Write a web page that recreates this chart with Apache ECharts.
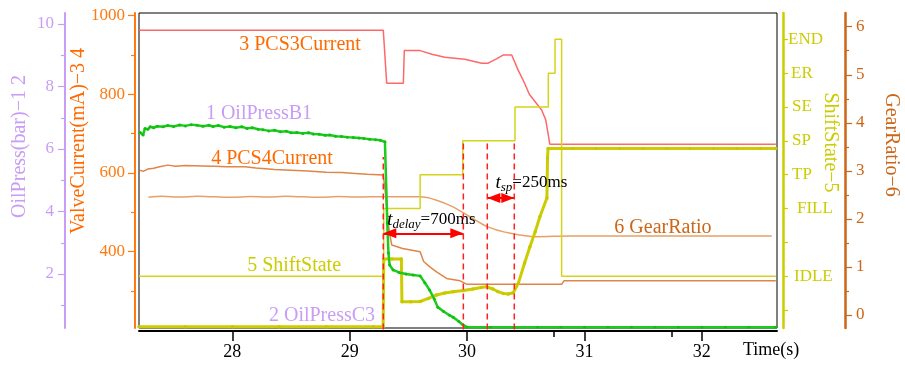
<!DOCTYPE html>
<html><head><meta charset="utf-8">
<script src="https://cdn.jsdelivr.net/npm/echarts@6/dist/echarts.min.js"></script>
<style>html,body{margin:0;padding:0;background:#fff}#c{width:905px;height:365px}</style>
</head><body><div id="c"></div>
<script>
const FONT = '"Liberation Serif","Times New Roman",serif';

// ---- data ----
const b1Time = [27.215,27.24,27.256,27.28,27.30,27.33,27.36,27.41,27.45,27.50,27.55,27.60,27.65,27.70,27.75,27.80,27.835,27.88,27.93,27.98,28.03,28.08,28.125,28.17,28.22,28.26,28.31,28.36,28.41,28.46,28.50,28.55,28.60,28.65,28.69,28.74,28.79,28.83,28.88,28.93,28.98,29.03,29.08,29.12,29.17,29.22,29.26,29.30,29.32,29.33,29.34,29.37,29.42,29.48,29.54,29.60,29.64,29.68,29.72,29.75,29.80,29.85,29.88,29.93,29.965,30.0,30.2,30.4,30.6,30.8,31.0,31.2,31.4,31.6,31.8,32.0,32.2,32.4,32.63];
const b1Press = [6.53,6.45,6.66,6.63,6.71,6.68,6.73,6.71,6.75,6.72,6.77,6.74,6.78,6.76,6.73,6.76,6.72,6.75,6.70,6.72,6.68,6.71,6.66,6.68,6.63,6.62,6.58,6.60,6.55,6.57,6.52,6.53,6.50,6.52,6.48,6.47,6.44,6.45,6.41,6.40,6.38,6.37,6.35,6.34,6.31,6.30,6.28,6.23,3.63,2.67,2.29,2.13,2.05,2.00,1.97,1.94,1.72,1.49,1.20,0.94,0.80,0.68,0.62,0.48,0.37,0.30,0.30,0.30,0.30,0.30,0.30,0.30,0.30,0.30,0.30,0.30,0.30,0.30,0.30];

const c3Time = [27.205,27.6,28.0,28.4,28.8,29.2,29.285,29.29,29.36,29.44,29.445,29.52,29.60,29.67,29.74,29.81,29.88,29.968,30.05,30.12,30.167,30.22,30.26,30.308,30.35,30.393,30.436,30.49,30.535,30.58,30.62,30.68,30.685,30.69,30.9,31.1,31.3,31.5,31.7,31.9,32.1,32.3,32.5,32.63];
const c3Press = [0.31,0.31,0.31,0.31,0.31,0.31,0.31,2.48,2.48,2.48,1.11,1.11,1.12,1.22,1.33,1.39,1.43,1.47,1.52,1.57,1.59,1.52,1.44,1.38,1.36,1.40,1.70,2.35,2.87,3.35,3.83,4.43,5.71,6.02,6.02,6.02,6.02,6.02,6.02,6.02,6.02,6.02,6.02,6.02];

const pcs3Time = [27.205,29.286,29.315,29.457,29.465,29.60,29.70,29.81,29.98,30.125,30.18,30.25,30.31,30.38,30.434,30.49,30.53,30.58,30.635,30.67,30.705,32.63];
const pcs3Current = [963,963,828,828,911,911,902,894,889,879,879,890,900,900,862,828,800,781,760,735,673,673];

const pcs4Time = [27.215,27.24,27.28,27.33,27.38,27.45,27.52,27.6,27.74,27.85,27.95,28.11,28.2,28.36,28.5,28.645,28.8,28.93,29.05,29.15,29.285,29.30,29.315,29.337,29.358,29.45,29.60,29.63,29.68,29.74,29.825,29.94,30.0,30.805,30.825,32.63];
const pcs4Current = [607,604,610,612,616,620,617,619,618,617,616,616,613,609,607,605,602,601,599,597,595,560,514,451,417,408,400,375,362,349,332,326,317,317,326,326];

const shiftTime = [27.205,29.29,29.29,29.60,29.60,29.963,29.963,30.408,30.408,30.692,30.692,30.749,30.749,30.805,30.805,32.63];
const shiftState = [1,1,3,3,4,4,5,5,6,6,7,7,8,8,1,1];

const gearTime = [27.285,27.4,27.55,27.7,27.85,28.0,28.15,28.3,28.45,28.6,28.75,28.9,29.05,29.17,29.6,29.74,29.88,30.02,30.17,30.37,30.59,30.875,32.595];
const gearRatio = [2.45,2.47,2.455,2.47,2.46,2.45,2.465,2.455,2.47,2.46,2.45,2.465,2.455,2.46,2.46,2.39,2.25,2.05,1.84,1.70,1.63,1.644,1.644];

const eventTimes = [29.286, 29.968, 30.172, 30.402];
const eventTops = [4.52, 5, 5, 5];

const timeTicks = [28, 29, 30, 31, 32];
const timeMinorTicks = [30.74, 31.74];
const pressTicks = [2, 4, 6, 8, 10];
const pressMinor = [1, 3, 5, 7, 9];
const currentTicks = [400, 600, 800, 1000];
const currentMinor = [300, 500, 700, 900];
const stateTicks = [0, 1, 2, 3, 4, 5, 6, 7, 8];
const stateNames = ['', 'IDLE', '', 'FILL', 'TP', 'SP', 'SE', 'ER', 'END'];
const ratioTicks = [0, 1, 2, 3, 4, 5, 6];
const ratioMinor = [0.5, 1.5, 2.5, 3.5, 4.5, 5.5];

// ---- styles ----
const C_PRESS = '#c99cf5', C_CUR = '#ff7a10', C_CUR_T = '#ff6a00', C_STATE = '#cccc00', C_RATIO = '#cc6618';
const statePad = [0, 6, 0, 9, 4, 4, 4, 3, 0];

const xy = (ts, vs) => ts.map((t, i) => [t, vs[i]]);
const X_MIN = 27.205, X_MAX = 32.64;
const plain = v => String(v);

function yAxisBase(o) {
  return Object.assign({
    type: 'value', splitLine: {show: false}, nameMoveOverlap: false,
    axisLine: {show: false, onZero: false}, axisLabel: {show: false}, axisTick: {show: false}
  }, o);
}
function nameStyle(color, pad) {
  return {color: color, fontSize: 20, fontFamily: FONT, padding: pad};
}
function lbl(text, color, t, v, pos) {
  return {
    coord: [t, v], symbol: 'circle', symbolSize: 1, itemStyle: {color: 'rgba(0,0,0,0)'},
    label: {show: true, position: pos || 'inside', distance: 0, formatter: text, color: color,
      fontSize: 20, fontFamily: FONT}
  };
}

const yAxes = [
  // 0 oil pressure
  yAxisBase({position: 'left', offset: 74, min: 0.272, max: 10.352,
    axisLine: {show: true, onZero: false, lineStyle: {color: C_PRESS, width: 2}},
    axisTick: {show: true, customValues: pressTicks, length: 7, lineStyle: {color: C_PRESS, width: 1.2}},
    axisLabel: {show: true, customValues: pressTicks, formatter: plain, color: C_PRESS, fontSize: 17, fontFamily: FONT, margin: 11},
    name: 'OilPress(bar)\u22121 2', nameLocation: 'middle', nameGap: 35, nameRotate: 90,
    nameTextStyle: nameStyle(C_PRESS, [0, 0, 0, 48])}),
  // 1 oil pressure minor ticks
  yAxisBase({position: 'left', offset: 74, min: 0.272, max: 10.352,
    axisTick: {show: true, customValues: pressMinor, length: 4, lineStyle: {color: C_PRESS, width: 1.2}}}),
  // 2 valve current
  yAxisBase({position: 'left', offset: 4, min: 206.1, max: 1006.6,
    axisLine: {show: true, onZero: false, lineStyle: {color: C_CUR, width: 2}},
    axisTick: {show: true, customValues: currentTicks, length: 7, lineStyle: {color: C_CUR, width: 1.2}},
    axisLabel: {show: true, customValues: currentTicks, formatter: plain, color: C_CUR, fontSize: 17, fontFamily: FONT, margin: 10},
    name: 'ValveCurrent(mA)\u22123 4', nameLocation: 'middle', nameGap: 46, nameRotate: 90,
    nameTextStyle: nameStyle(C_CUR_T, [0, 0, 0, 59])}),
  // 3 valve current minor
  yAxisBase({position: 'left', offset: 4, min: 206.1, max: 1006.6,
    axisTick: {show: true, customValues: currentMinor, length: 4, lineStyle: {color: C_CUR, width: 1.2}}}),
  // 4 shift state
  yAxisBase({position: 'right', offset: 6, min: -0.532, max: 8.777,
    axisLine: {show: true, onZero: false, lineStyle: {color: C_STATE, width: 2.5}},
    axisTick: {show: true, customValues: stateTicks, length: 5, lineStyle: {color: C_STATE, width: 1.2}},
    axisLabel: {show: true, customValues: stateTicks, color: C_STATE, fontSize: 17, fontFamily: FONT, margin: 5,
      formatter: v => { const i = Math.round(v); return stateNames[i] ? '{s' + i + '|' + stateNames[i] + '}' : ''; },
      rich: Object.fromEntries(statePad.map((p, i) => ['s' + i, {color: C_STATE, fontSize: 17, fontFamily: FONT, padding: [0, 0, 0, p]}]))},
    name: 'ShiftState\u22125', nameLocation: 'middle', nameGap: 37, nameRotate: -90,
    nameTextStyle: nameStyle(C_STATE, [0, 56, 0, 0])}),
  // 5 gear ratio
  yAxisBase({position: 'right', offset: 68, min: -0.27, max: 6.285,
    axisLine: {show: true, onZero: false, lineStyle: {color: C_RATIO, width: 2.5}},
    axisTick: {show: true, customValues: ratioTicks, length: 7, lineStyle: {color: C_RATIO, width: 1.2}},
    axisLabel: {show: true, customValues: ratioTicks, formatter: plain, color: C_RATIO, fontSize: 17, fontFamily: FONT, margin: 11},
    name: 'GearRatio\u22126', nameLocation: 'middle', nameGap: 36, nameRotate: -90,
    nameTextStyle: nameStyle(C_RATIO, [0, 51, 0, 0])}),
  // 6 gear ratio minor
  yAxisBase({position: 'right', offset: 68, min: -0.27, max: 6.285,
    axisTick: {show: true, customValues: ratioMinor, length: 4, lineStyle: {color: C_RATIO, width: 1.2}}})
];

const arrowText = (sub, rest) => ({
  show: true, position: 'right', distance: 0, color: '#000', fontFamily: FONT,
  formatter: '{t|t}{s|' + sub + '}{n|' + rest + '}',
  rich: {t: {fontSize: 19, fontStyle: 'italic', fontFamily: FONT, color: '#000'},
         s: {fontSize: 13, fontStyle: 'italic', fontFamily: FONT, color: '#000', padding: [9, 0, 0, 0]},
         n: {fontSize: 17, fontFamily: FONT, color: '#000'}}
});

const eventSeries = eventTimes.map((t, i) => ({
  type: 'line', xAxisIndex: 0, yAxisIndex: 4, clip: false, silent: true,
  data: [[t, -0.58], [t, eventTops[i]]], showSymbol: false, z: 5,
  lineStyle: {color: '#ff2020', width: 1.5, type: [6, 4]}
}));
eventSeries[0].markLine = {
  silent: true, symbol: ['triangle', 'triangle'], symbolSize: [10, 13],
  symbolOffset: [[0, '50%'], [0, '50%']], animation: false,
  lineStyle: {color: '#ff0000', width: 2, type: 'solid'}, label: {show: false},
  data: [
    [{coord: [eventTimes[0], 2.267]}, {coord: [eventTimes[1], 2.267]}],
    [{coord: [eventTimes[2], 3.31]}, {coord: [eventTimes[3], 3.31]}]
  ]
};
eventSeries[0].markPoint = {
  silent: true, animation: false,
  data: [
    {coord: [29.315, 2.66], symbol: 'circle', symbolSize: 1, itemStyle: {color: 'rgba(0,0,0,0)'},
     label: arrowText('delay', '=700ms')},
    {coord: [30.238, 3.76], symbol: 'circle', symbolSize: 1, itemStyle: {color: 'rgba(0,0,0,0)'},
     label: arrowText('sp', '=250ms')}
  ]
};

const option = {
  animation: false,
  backgroundColor: '#fff',
  textStyle: {fontFamily: FONT},
  grid: {left: 139, right: 128, top: 13, bottom: 37, containLabel: false, outerBoundsMode: 'none',
    show: true, borderColor: '#000', borderWidth: 1, backgroundColor: 'transparent'},
  xAxis: [
    {type: 'value', min: X_MIN, max: X_MAX, position: 'bottom', offset: 3, splitLine: {show: false},
     axisLine: {show: true, onZero: false, lineStyle: {color: '#000', width: 2}},
     axisTick: {show: true, customValues: timeTicks, length: 10, lineStyle: {color: '#000', width: 1.5}},
     axisLabel: {show: true, customValues: timeTicks, formatter: plain, color: '#000', fontSize: 18, fontFamily: FONT, margin: 12}},
    {type: 'value', min: X_MIN, max: X_MAX, position: 'bottom', offset: 3, splitLine: {show: false},
     axisLine: {show: false, onZero: false}, axisLabel: {show: false},
     axisTick: {show: true, customValues: timeMinorTicks, length: 6, lineStyle: {color: '#000', width: 1.5}}},
    {type: 'value', min: X_MIN, max: X_MAX, position: 'bottom', offset: 22, splitLine: {show: false},
     axisLine: {show: false, onZero: false}, axisLabel: {show: false}, axisTick: {show: false},
     name: 'Time(s)', nameLocation: 'end', nameGap: -34, nameMoveOverlap: false,
     nameTextStyle: {color: '#000', fontSize: 18, fontFamily: FONT, align: 'left', verticalAlign: 'middle'}}
  ],
  yAxis: yAxes,
  series: [
    {name: 'GearRatio', type: 'line', xAxisIndex: 0, yAxisIndex: 5, data: xy(gearTime, gearRatio),
     smooth: 0.3, showSymbol: false, lineStyle: {color: '#e8a068', width: 1.5}, z: 2,
     markPoint: {silent: true, data: [lbl('6 GearRatio', C_RATIO, 31.668, 1.81)]}},
    {name: 'PCS4Current', type: 'line', xAxisIndex: 0, yAxisIndex: 2, data: xy(pcs4Time, pcs4Current),
     showSymbol: false, lineStyle: {color: '#e08548', width: 1.5}, z: 2,
     markPoint: {silent: true, data: [lbl('4 PCS4Current', C_CUR_T, 28.338, 635.6)]}},
    {name: 'PCS3Current', type: 'line', xAxisIndex: 0, yAxisIndex: 2, data: xy(pcs3Time, pcs3Current),
     showSymbol: false, lineStyle: {color: '#ff6868', width: 1.5}, z: 2,
     markPoint: {silent: true, data: [lbl('3 PCS3Current', C_CUR_T, 28.577, 925.3)]}},
    {name: 'ShiftState', type: 'line', xAxisIndex: 0, yAxisIndex: 4, data: xy(shiftTime, shiftState),
     showSymbol: false, lineStyle: {color: '#d4d41c', width: 1.5}, z: 3,
     markPoint: {silent: true, data: [lbl('5 ShiftState', C_STATE, 28.526, 1.30)]}},
    {name: 'OilPressC3', type: 'line', xAxisIndex: 0, yAxisIndex: 0, data: xy(c3Time, c3Press),
     showSymbol: true, showAllSymbol: true, symbol: 'circle', symbolSize: 3.5,
     itemStyle: {color: '#c8c800'}, lineStyle: {color: '#cccc00', width: 3}, z: 4,
     markPoint: {silent: true, data: [lbl('2 OilPressC3', C_PRESS, 28.764, 0.656)]}},
    {name: 'OilPressB1', type: 'line', xAxisIndex: 0, yAxisIndex: 0, data: xy(b1Time, b1Press),
     showSymbol: true, showAllSymbol: true, symbol: 'circle', symbolSize: 3,
     itemStyle: {color: '#10c010'}, lineStyle: {color: '#1ccc1c', width: 2.5}, z: 4,
     markPoint: {silent: true, data: [lbl('1 OilPressB1', C_PRESS, 28.227, 7.12)]}}
  ].concat(eventSeries)
};

const chart = echarts.init(document.getElementById('c'), null, {renderer: 'canvas'});
chart.setOption(option);
</script>
</body></html>
